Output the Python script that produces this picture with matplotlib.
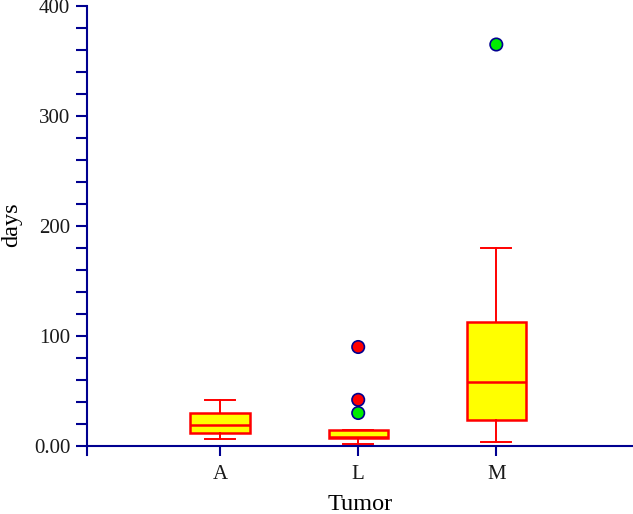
import matplotlib
matplotlib.use("Agg")
import matplotlib.pyplot as plt

categories = ["A", "L", "M"]
whislo = [6, 1.5, 3.5]
q1 = [12, 7.3, 23.5]
med = [19, 8.3, 58.5]
q3 = [30, 14.5, 112.5]
whishi = [42, 14.5, 180]
outlier_x = ["L", "L", "L", "M"]
outlier_y = [90, 42, 30, 365]
outlier_color = ["#ff0000", "#ff0000", "#00ee00", "#00ee00"]

yticks = [0, 100, 200, 300, 400]
yticklabels = ["0.00", "100", "200", "300", "400"]

navy = "#000090"
plt.rcParams["font.family"] = ["Liberation Serif", "DejaVu Serif"]

fig = plt.figure(figsize=(6.33, 5.14), dpi=100)
ax = fig.add_axes([87/633, (514-454.8)/514, 1-87/633, (454.8-6)/514])

pos = list(range(1, len(categories)+1))
stats = []
for i, c in enumerate(categories):
    stats.append(dict(label=c, whislo=whislo[i], q1=q1[i], med=med[i], q3=q3[i], whishi=whishi[i], fliers=[]))
ax.bxp(stats, positions=pos, widths=0.43, patch_artist=True, showfliers=False,
       boxprops=dict(facecolor="#ffff00", edgecolor="#ff0000", linewidth=1.8),
       medianprops=dict(color="#ff0000", linewidth=1.8),
       whiskerprops=dict(color="#ff0000", linewidth=1.4),
       capprops=dict(color="#ff0000", linewidth=1.4),
       capwidths=0.22)

xmap = {c: p for c, p in zip(categories, pos)}
ax.scatter([xmap[c] for c in outlier_x], outlier_y, s=80, c=outlier_color,
           edgecolors=navy, linewidths=1.2, zorder=5)

ax.set_xlim(0.036, 3.99)
ax.set_ylim(-8, 400)
ax.set_yticks(yticks)
ax.set_yticklabels(yticklabels)
ax.set_yticks(range(20, 400, 20), minor=True)
ax.set_xticks(pos)
ax.set_xticklabels(categories)

for s in ["top", "right"]:
    ax.spines[s].set_visible(False)
ax.spines["bottom"].set_position(("data", 0))
for s in ["left", "bottom"]:
    ax.spines[s].set_color(navy)
    ax.spines[s].set_linewidth(1.5)
ax.tick_params(which="both", direction="out", color=navy, width=1.5, length=8, labelsize=15, labelcolor="#1a1a1a")
ax.tick_params(axis="x", pad=7, length=7)
ax.tick_params(axis="y", pad=4)

fig.text(12/633, 1-225/514, "days", fontsize=17.5, rotation=90, ha="center", va="center")
fig.text(360/633, 1-504/514, "Tumor", fontsize=17.5, ha="center", va="center")

fig.savefig("out.png", dpi=100)
